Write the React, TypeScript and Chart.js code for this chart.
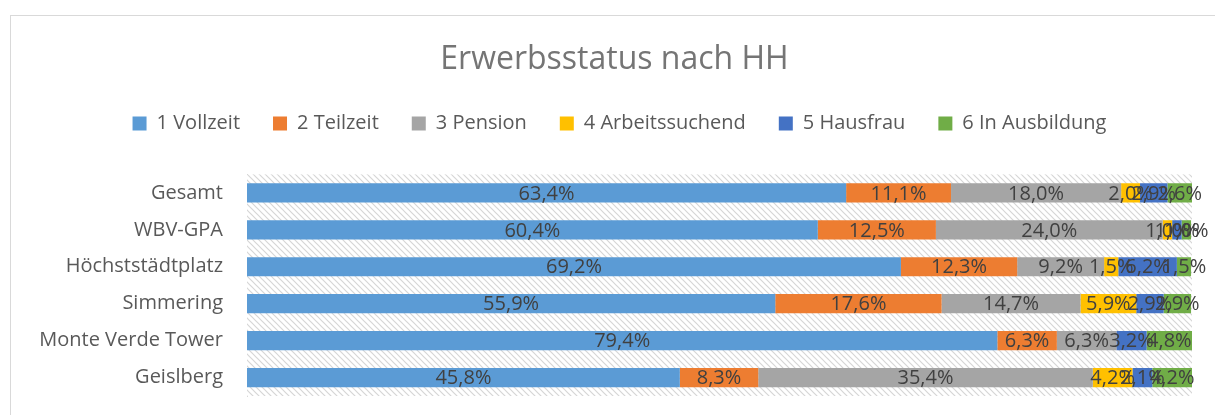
import React, { useEffect, useRef } from 'react';
import { Chart, registerables } from 'chart.js';

Chart.register(...registerables);

const categories = ['Gesamt', 'WBV-GPA', 'Höchststädtplatz', 'Simmering', 'Monte Verde Tower', 'Geislberg'];
const seriesNames = ['1 Vollzeit', '2 Teilzeit', '3 Pension', '4 Arbeitssuchend', '5 Hausfrau', '6 In Ausbildung'];
const vollzeit = [63.4, 60.4, 69.2, 55.9, 79.4, 45.8];
const teilzeit = [11.1, 12.5, 12.3, 17.6, 6.3, 8.3];
const pension = [18.0, 24.0, 9.2, 14.7, 6.3, 35.4];
const arbeitssuchend = [2.0, 1.0, 1.5, 5.9, 0, 4.2];
const hausfrau = [2.9, 1.0, 6.2, 2.9, 3.2, 2.1];
const ausbildung = [2.6, 1.0, 1.5, 2.9, 4.8, 4.2];
const seriesColors = ['#5B9BD5', '#ED7D31', '#A5A5A5', '#FFC000', '#4472C4', '#70AD47'];
const titleText = 'Erwerbsstatus nach HH';

const FONT = "'Open Sans', sans-serif";

function makeHatch(ctx: CanvasRenderingContext2D): CanvasPattern | string {
  const c = document.createElement('canvas');
  c.width = 6;
  c.height = 6;
  const p = c.getContext('2d');
  if (!p) return '#ffffff';
  p.fillStyle = '#ffffff';
  p.fillRect(0, 0, 6, 6);
  p.strokeStyle = '#d6d6d6';
  p.lineWidth = 1.2;
  p.beginPath();
  p.moveTo(-1, -1);
  p.lineTo(7, 7);
  p.moveTo(-4, 2);
  p.lineTo(4, 10);
  p.moveTo(2, -4);
  p.lineTo(10, 4);
  p.stroke();
  return ctx.createPattern(c, 'repeat') || '#ffffff';
}

const legendSpacePlugin = {
  id: 'legendSpace',
  beforeInit(chart: any) {
    const lg = chart.legend;
    if (!lg || lg.__patched) return;
    const origFit = lg.fit.bind(lg);
    lg.fit = function () {
      origFit();
      this.height += 31;
    };
    const origDraw = lg.draw.bind(lg);
    lg.draw = function (...args: any[]) {
      const ctx = chart.ctx;
      ctx.save();
      ctx.translate(5, 0);
      origDraw(...args);
      ctx.restore();
    };
    lg.__patched = true;
  },
};

const hatchPlugin = {
  id: 'hatchBg',
  beforeDatasetsDraw(chart: any) {
    const { ctx, chartArea } = chart;
    ctx.save();
    ctx.fillStyle = makeHatch(ctx);
    ctx.fillRect(chartArea.left, chartArea.top, chartArea.right - chartArea.left, chartArea.bottom - chartArea.top);
    ctx.restore();
  },
};

const labelPlugin = {
  id: 'segLabels',
  afterDatasetsDraw(chart: any) {
    const { ctx } = chart;
    ctx.save();
    ctx.font = `20px ${FONT}`;
    ctx.fillStyle = '#404040';
    ctx.textAlign = 'center';
    ctx.textBaseline = 'middle';
    chart.data.datasets.forEach((ds: any, di: number) => {
      const meta = chart.getDatasetMeta(di);
      meta.data.forEach((el: any, i: number) => {
        const v = ds.data[i];
        if (!v) return;
        const cx = (el.x + el.base) / 2;
        ctx.fillText(v.toFixed(1).replace('.', ',') + '%', cx, el.y + 1);
      });
    });
    ctx.restore();
  },
};

export default function App() {
  const ref = useRef<HTMLCanvasElement>(null);
  useEffect(() => {
    if (!ref.current) return;
    const data = [vollzeit, teilzeit, pension, arbeitssuchend, hausfrau, ausbildung];
    const chart = new Chart(ref.current, {
      type: 'bar',
      data: {
        labels: categories,
        datasets: data.map((d, i) => ({
          label: seriesNames[i],
          data: d,
          backgroundColor: seriesColors[i],
          borderWidth: 0,
          barPercentage: 0.52,
          categoryPercentage: 1,
        })),
      },
      options: {
        indexAxis: 'y',
        animation: false,
        responsive: false,
        maintainAspectRatio: false,
        layout: { padding: { left: 26, right: 29, top: 0, bottom: 15 } },
        scales: {
          x: { display: false, stacked: true, min: 0, max: 100 },
          y: {
            stacked: true,
            grid: { display: false, drawTicks: false },
            border: { display: true, color: '#d9d9d9', width: 1 },
            ticks: { color: '#595959', font: { family: FONT, size: 20 }, padding: 24 },
            afterFit: (scale: any) => {
              scale.width = 210;
              scale.paddingTop = 0;
              scale.paddingBottom = 0;
            },
          },
        },
        plugins: {
          title: {
            display: true,
            text: titleText,
            color: '#757575',
            font: { family: FONT, size: 32, weight: 'normal' },
            padding: { top: 25, bottom: 1 },
          },
          legend: {
            display: true,
            labels: {
              boxWidth: 14,
              boxHeight: 14,
              color: '#595959',
              font: { family: FONT, size: 20 },
              padding: 33,
            },
          },
          tooltip: { enabled: false },
        },
      },
      plugins: [legendSpacePlugin, hatchPlugin, labelPlugin],
    });
    return () => chart.destroy();
  }, []);
  return (
    <div
      style={{
        position: 'fixed',
        left: 10,
        top: 15,
        width: 1215,
        height: 420,
        borderTop: '1px solid #d9d9d9',
        borderLeft: '1px solid #d9d9d9',
        background: '#ffffff',
      }}
    >
      <canvas ref={ref} width={1210} height={395} style={{ display: 'block', width: 1210, height: 395 }} />
    </div>
  );
}
